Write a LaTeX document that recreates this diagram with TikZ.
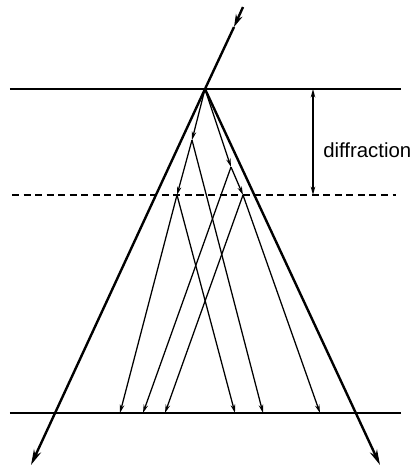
\documentclass[tikz,border=0pt]{standalone}
\usepackage{fontspec}
\setsansfont{Liberation Sans}
\usetikzlibrary{arrows.meta}

\begin{document}
\begin{tikzpicture}[
    x=0.025cm, y=-0.025cm,
    surface/.style={line width=1.6pt},
    plane/.style={line width=1.6pt, dash pattern=on 5pt off 3.2pt},
    beam/.style={line width=1.7pt, -{Stealth[length=11pt, width=5.5pt]}},
    ray/.style={line width=0.9pt, -{Stealth[length=6pt, width=3.2pt]}},
    note/.style={font=\sffamily\fontsize{14.5}{16}\selectfont, inner sep=0pt}
]
\useasboundingbox (0,0) rectangle (415,470);

% Points
\coordinate (src) at (243,7);
\coordinate (srcTip) at (234,27);
\coordinate (apex) at (205,89);
\coordinate (outL) at (31,465);
\coordinate (outR) at (380,465);
\coordinate (midL) at (192,140);
\coordinate (midR) at (231,167);
\coordinate (dashL) at (177,195);
\coordinate (dashR) at (243,195);
\coordinate (b1) at (120,413);
\coordinate (b2) at (143,413);
\coordinate (b3) at (165,413);
\coordinate (b4) at (235,413);
\coordinate (b5) at (263,413);
\coordinate (b6) at (320,413);

% Crystal surfaces
\draw[surface] (10,89) -- (401,89);
\draw[plane] (12,195) -- (396,195);
\draw[surface] (10,413) -- (401,413);

% Incident and outgoing beams
\draw[beam, -{Stealth[length=9pt, width=5pt]}] (src) -- (srcTip);
\draw[line width=1.7pt] (srcTip) -- (apex);
\draw[beam] (apex) -- (outL);
\draw[beam] (apex) -- (outR);

% Rays inside the crystal
\draw[ray] (apex) -- (midL);
\draw[ray] (midL) -- (dashL);
\draw[ray] (midL) -- (b5);
\draw[ray] (apex) -- (midR);
\draw[ray] (midR) -- (dashR);
\draw[ray] (midR) -- (b2);
\draw[ray] (dashL) -- (b1);
\draw[ray] (dashL) -- (b4);
\draw[ray] (dashR) -- (b3);
\draw[ray] (dashR) -- (b6);

% Depth marker
\coordinate (depthTop) at (313,89);
\coordinate (depthBot) at (313,195);
\draw[line width=0.9pt, {Stealth[length=6pt, width=3.2pt]}-{Stealth[length=6pt, width=3.2pt]}] (depthTop) -- (depthBot);
\node[note, anchor=west] (lbl) at (323,150) {diffraction};

\end{tikzpicture}
\end{document}
